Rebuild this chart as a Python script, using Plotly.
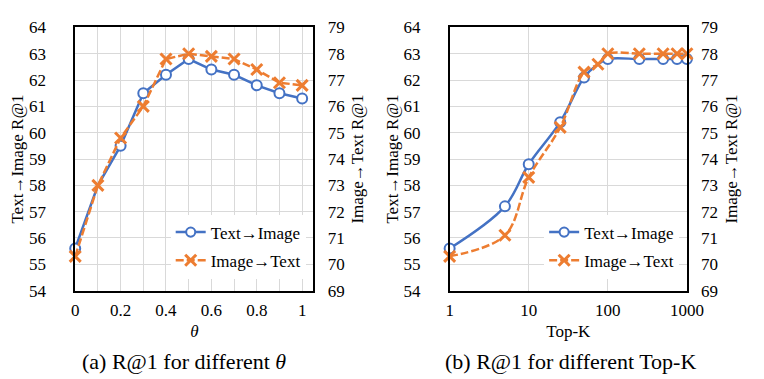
"""R@1 vs theta and vs Top-K, two dual-axis line panels."""
import plotly.graph_objects as go

# ---------------------------------------------------------------------------
# Data
# ---------------------------------------------------------------------------
theta = [0, 0.1, 0.2, 0.3, 0.4, 0.5, 0.6, 0.7, 0.8, 0.9, 1.0]
theta_t2i = [55.6, 58.0, 59.5, 61.5, 62.2, 62.8, 62.4, 62.2, 61.8, 61.5, 61.3]
theta_i2t = [70.3, 73.0, 74.8, 76.0, 77.8, 78.0, 77.9, 77.8, 77.4, 76.9, 76.8]

topk = [1, 5, 10, 25, 50, 75, 100, 250, 500, 750, 1000]
topk_t2i = [55.6, 57.2, 58.8, 60.4, 62.1, 62.6, 62.8, 62.8, 62.8, 62.8, 62.8]
topk_i2t = [70.3, 71.1, 73.3, 75.2, 77.3, 77.6, 78.0, 78.0, 78.0, 78.0, 78.0]

theta_ticks = [0, 0.2, 0.4, 0.6, 0.8, 1]
topk_ticks = [1, 10, 100, 1000]

# ---------------------------------------------------------------------------
# Style
# ---------------------------------------------------------------------------
W, H = 764, 379
BLUE = "#4472C4"
ORANGE = "#ED7D31"
GRID = "#d9d9d9"
FONT = "Liberation Serif"

# blue markers hidden under the orange ones in the source figure
theta_t2i_msize = [10, 0, 10, 10, 10, 10, 10, 10, 10, 10, 10]
topk_t2i_msize = [10, 10, 10, 10, 10, 0, 10, 10, 10, 10, 10]


def px_x(p):
    return p / W


def px_y(p):
    return 1 - p / H


def t2i_trace(x, y, xa, ya, legend, shape, msize):
    return go.Scatter(
        x=x, y=y, xaxis=xa, yaxis=ya, name="Text→Image",
        mode="lines+markers", legend=legend, legendgroup="a" + legend,
        line={"color": BLUE, "width": 2.5, "shape": shape},
        marker={"symbol": "circle", "size": msize, "color": "white",
                "opacity": 1, "line": {"color": BLUE, "width": 2}},
        cliponaxis=False,
    )


def i2t_trace(x, y, xa, ya, legend, shape):
    return go.Scatter(
        x=x, y=y, xaxis=xa, yaxis=ya, name="Image→Text",
        mode="lines+markers", legend=legend, legendgroup="b" + legend,
        line={"color": ORANGE, "width": 2.5, "dash": "8px,3px", "shape": shape},
        marker={"symbol": "x-thin-open", "size": 11,
                "line": {"color": ORANGE, "width": 3}},
        cliponaxis=False,
    )


fig = go.Figure()
fig.add_trace(t2i_trace(theta, theta_t2i, "x", "y", "legend", "linear",
                        theta_t2i_msize))
fig.add_trace(i2t_trace(theta, theta_i2t, "x", "y2", "legend", "linear"))
fig.add_trace(t2i_trace(topk, topk_t2i, "x2", "y3", "legend2", "spline",
                        topk_t2i_msize))
fig.add_trace(i2t_trace(topk, topk_i2t, "x2", "y4", "legend2", "spline"))

tick_font = {"family": FONT, "size": 17, "color": "black"}
title_font = {"family": FONT, "size": 17, "color": "black"}

axis_common = {
    "showline": True, "linecolor": "black", "linewidth": 1.5,
    "ticks": "", "tickfont": tick_font, "zeroline": False,
}
y_dom = [px_y(288), px_y(11)]

left_y = dict(axis_common, range=[54, 64], dtick=1, showgrid=True,
              gridcolor=GRID, domain=y_dom, mirror=True,
              ticklabelstandoff=24)
right_y = dict(axis_common, range=[69, 79], dtick=1, showgrid=False,
               side="right", domain=y_dom, ticklabelstandoff=9)

fig.update_layout(
    width=W, height=H,
    margin={"l": 0, "r": 0, "t": 0, "b": 0},
    paper_bgcolor="white", plot_bgcolor="white",
    font={"family": FONT, "size": 17, "color": "black"},
    xaxis=dict(axis_common, domain=[px_x(65), px_x(310)], range=[0, 1.05],
               tickvals=theta_ticks, ticktext=[str(t) for t in theta_ticks],
               showgrid=True, gridcolor=GRID, mirror=True, anchor="y",
               ticklabelstandoff=3,
               minor={"dtick": 0.1, "showgrid": True, "gridcolor": GRID},
               title={"text": "<i>θ</i>", "standoff": 6, "font": title_font}),
    yaxis=dict(left_y, anchor="x",
               title={"text": "Text→Image R@1", "standoff": 1,
                      "font": title_font}),
    yaxis2=dict(right_y, anchor="x", overlaying="y",
                title={"text": "Image→Text R@1", "standoff": 7,
                       "font": title_font}),
    xaxis2=dict(axis_common, domain=[px_x(450), px_x(694)], type="log",
                range=[0, 3], tickvals=topk_ticks,
                ticktext=[str(t) for t in topk_ticks],
                showgrid=True, gridcolor=GRID, mirror=True, anchor="y3",
                ticklabelstandoff=3,
                title={"text": "Top-K", "standoff": 6, "font": title_font}),
    yaxis3=dict(left_y, anchor="x2",
                title={"text": "Text→Image R@1", "standoff": 1,
                       "font": title_font}),
    yaxis4=dict(right_y, anchor="x2", overlaying="y3",
                title={"text": "Image→Text R@1", "standoff": 8,
                       "font": title_font}),
    legend={"x": px_x(302), "y": px_y(208), "xanchor": "right",
            "yanchor": "top", "bgcolor": "white", "traceorder": "grouped",
            "tracegroupgap": 3, "font": {"family": FONT, "size": 17}},
    legend2={"x": px_x(686), "y": px_y(208), "xanchor": "right",
             "yanchor": "top", "bgcolor": "white", "traceorder": "grouped",
             "tracegroupgap": 3, "font": {"family": FONT, "size": 17}},
    annotations=[
        {"text": "(a) R@1 for different <i>θ</i>", "x": px_x(177),
         "y": px_y(363), "xref": "paper", "yref": "paper",
         "xanchor": "center", "yanchor": "middle",
         "showarrow": False, "font": {"family": FONT, "size": 22}},
        {"text": "(b) R@1 for different Top-K", "x": px_x(574),
         "y": px_y(363), "xref": "paper", "yref": "paper",
         "xanchor": "center", "yanchor": "middle",
         "showarrow": False, "font": {"family": FONT, "size": 22}},
    ],
)

fig.write_html("out.html")
